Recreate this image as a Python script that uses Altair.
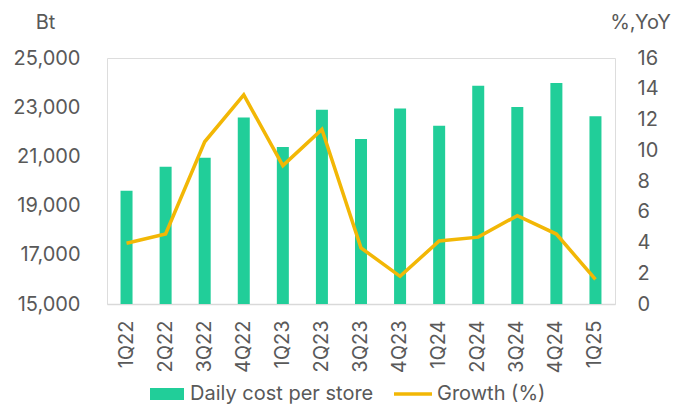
import altair as alt
import pandas as pd

quarters = ["1Q22", "2Q22", "3Q22", "4Q22", "1Q23", "2Q23", "3Q23", "4Q23",
            "1Q24", "2Q24", "3Q24", "4Q24", "1Q25"]
daily_cost = [19600, 20580, 20950, 22580, 21380, 22900, 21710, 22950,
              22250, 23870, 23010, 23980, 22630]
growth = [3.95, 4.55, 10.55, 13.6, 9.0, 11.35, 3.65, 1.8,
          4.1, 4.35, 5.75, 4.55, 1.6]

df = pd.DataFrame({
    "q": quarters,
    "cost": daily_cost,
    "growth": growth,
    "s1": ["Daily cost per store"] * len(quarters),
    "s2": ["Growth (%)"] * len(quarters),
})

FONT = "Inter"
FS = 20
TXT = "#595959"
GREEN = "#21CE99"
GOLD = "#F2B705"

x = alt.X("q:N", sort=quarters, title=None,
          scale=alt.Scale(paddingInner=0, paddingOuter=0),
          axis=alt.Axis(labelAngle=-90, labelPadding=16, ticks=False,
                        domainColor="#d9d9d9", domainWidth=1.5,
                        labelFontSize=FS, labelColor=TXT, labelFont=FONT))

bars = alt.Chart(df).mark_bar(size=12).encode(
    x=x,
    y=alt.Y("cost:Q", scale=alt.Scale(domain=[15000, 25000], zero=False, nice=False),
            axis=alt.Axis(values=[15000, 17000, 19000, 21000, 23000, 25000],
                          format=",.0f", grid=False, ticks=False, domain=False,
                          labelPadding=27, labelFontSize=FS, labelColor=TXT, labelFont=FONT,
                          title="Bt", titleAngle=0, titleX=-62, titleY=-30,
                          titleAlign="center", titleBaseline="alphabetic",
                          titleFontWeight="normal", titleFontSize=FS,
                          titleColor=TXT, titleFont=FONT)),
    y2=alt.datum(15000),
    fill=alt.Fill("s1:N", scale=alt.Scale(range=[GREEN]),
                  legend=alt.Legend(title=None, orient="none", legendX=43, legendY=319,
                                    symbolType="M-1,-0.36 h2 v0.72 h-2 Z",
                                    symbolSize=1156, symbolStrokeWidth=0,
                                    labelOffset=6, labelFontSize=FS, labelColor=TXT,
                                    labelFont=FONT, labelLimit=400, padding=0)),
)

line = alt.Chart(df).mark_line(strokeWidth=3.5).encode(
    x=x,
    y=alt.Y("growth:Q", scale=alt.Scale(domain=[0, 16], nice=False),
            axis=alt.Axis(orient="right", values=list(range(0, 17, 2)),
                          grid=False, ticks=False, domain=False,
                          labelPadding=22, labelFontSize=FS, labelColor=TXT, labelFont=FONT,
                          title="%,YoY", titleAngle=0, titleX=25, titleY=-30,
                          titleAlign="center", titleBaseline="alphabetic",
                          titleFontWeight="normal", titleFontSize=FS,
                          titleColor=TXT, titleFont=FONT)),
    stroke=alt.Stroke("s2:N", scale=alt.Scale(range=[GOLD]),
                      legend=alt.Legend(title=None, orient="none", legendX=285, legendY=315,
                                        symbolType="stroke", symbolSize=1444,
                                        symbolStrokeWidth=3.5,
                                        labelOffset=3, labelFontSize=FS, labelColor=TXT,
                                        labelFont=FONT, labelLimit=400, padding=0)),
)

chart = alt.layer(bars, line).resolve_scale(
    y="independent", fill="independent", stroke="independent"
).resolve_legend(fill="independent", stroke="independent").properties(
    width=508, height=246,
    autosize=alt.AutoSizeParams(type="none"),
    padding={"left": 107, "top": 58, "right": 72, "bottom": 103},
).configure_view(stroke=None).configure(background="white")

chart.save("out.html", embed_options={"renderer": "svg", "actions": False})
